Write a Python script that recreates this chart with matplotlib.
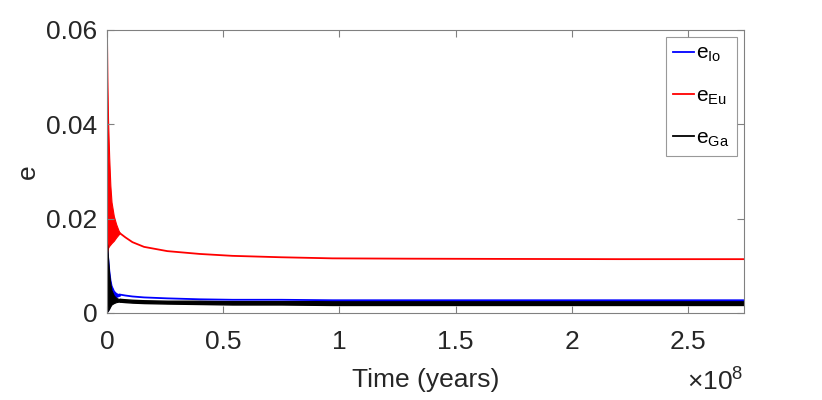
import matplotlib
matplotlib.use("Agg")
import matplotlib.pyplot as plt
import numpy as np

plt.rcParams['font.family'] = ['Liberation Sans', 'DejaVu Sans']
plt.rcParams['mathtext.fontset'] = 'custom'
plt.rcParams['mathtext.rm'] = 'Liberation Sans'
plt.rcParams['mathtext.it'] = 'Liberation Sans'

# time in units of 1e8 years
# early oscillating phase: upper / lower envelope of each series
t_early = [0.0, 0.002, 0.005, 0.01, 0.015, 0.02, 0.03, 0.04, 0.05, 0.056]
eu_hi = [0.0588, 0.050, 0.041, 0.033, 0.027, 0.0235, 0.0205, 0.0188, 0.0175, 0.0169]
eu_lo = [0.0125, 0.0130, 0.0138, 0.0142, 0.0145, 0.0148, 0.0153, 0.0160, 0.0166, 0.0169]
io_hi = [0.0140, 0.0132, 0.0118, 0.0090, 0.0070, 0.0058, 0.0047, 0.0042, 0.0040, 0.0039]
io_lo = [0.0003, 0.0004, 0.0006, 0.0012, 0.0018, 0.0024, 0.0030, 0.0034, 0.0036, 0.0037]
ga_hi = [0.0150, 0.0142, 0.0115, 0.0082, 0.0062, 0.0048, 0.0037, 0.0032, 0.0030, 0.0030]
ga_lo = [0.0003, 0.0003, 0.0005, 0.0009, 0.0014, 0.0018, 0.0021, 0.0023, 0.0024, 0.0024]

# slowly damped phase
t_late = [0.056, 0.08, 0.11, 0.16, 0.26, 0.4, 0.54, 0.75, 0.97, 1.3, 1.7, 2.2, 2.74]
eu_late = [0.0169, 0.0160, 0.0150, 0.0140, 0.0131, 0.0125, 0.0121, 0.0118, 0.01157, 0.0115, 0.01145, 0.0114, 0.0114]
io_late = [0.0039, 0.0037, 0.0035, 0.0033, 0.0031, 0.0029, 0.0028, 0.0028, 0.0027, 0.0027, 0.0027, 0.0027, 0.0027]
ga_late_hi = [0.0030, 0.0029, 0.0028, 0.0027, 0.0026, 0.0026, 0.0025, 0.0025, 0.0025, 0.0025, 0.0025, 0.0025, 0.0025]
ga_late_lo = [0.0024, 0.0023, 0.0022, 0.0021, 0.0020, 0.0019, 0.0018, 0.0018, 0.0017, 0.0017, 0.0017, 0.0017, 0.0017]

x_ticks = [0, 0.5, 1, 1.5, 2, 2.5]
x_tick_labels = ['0', '0.5', '1', '1.5', '2', '2.5']
y_ticks = [0, 0.02, 0.04, 0.06]
y_tick_labels = ['0', '0.02', '0.04', '0.06']

te = np.array(t_early) * 1e8
tl = np.array(t_late) * 1e8

fig = plt.figure(figsize=(8.22, 4.0), dpi=100)
ax = fig.add_axes([0.130, 0.2175, 0.775, 0.7085])

blue = '#0000ff'
red = '#ff0000'
black = '#000000'
dark = '#262626'
gray = '#808080'

# Io
ax.fill_between(te, io_lo, io_hi, color=blue, lw=0.8)
ax.plot(tl, io_late, color=blue, lw=1.3, label=r'$\mathregular{e_{Io}}$')
# Europa
ax.fill_between(te, eu_lo, eu_hi, color=red, lw=0.8)
ax.plot(tl, eu_late, color=red, lw=1.3, label=r'$\mathregular{e_{Eu}}$')
# Ganymede
ax.fill_between(te, ga_lo, ga_hi, color=black, lw=0.8)
ax.fill_between(tl, ga_late_lo, ga_late_hi, color=black, lw=1.0)
ax.plot([], [], color=black, lw=1.3, label=r'$\mathregular{e_{Ga}}$')

ax.set_xlim(0, 2.74e8)
ax.set_ylim(0, 0.06)
ax.set_yticks(y_ticks)
ax.set_yticklabels(y_tick_labels)
ax.set_xticks(np.array(x_ticks) * 1e8)
ax.set_xticklabels(x_tick_labels)

for s in ax.spines.values():
    s.set_color(gray)
    s.set_linewidth(0.8)
ax.tick_params(direction='in', length=5, width=0.8, color=gray,
               labelcolor=dark, labelsize=19, top=True, right=True)
ax.tick_params(axis='x', pad=12)
ax.tick_params(axis='y', pad=7)

ax.set_xlabel('Time (years)', fontsize=19, color=dark, labelpad=10)
ax.set_ylabel('e', fontsize=19, color=dark, labelpad=4)
ax.text(1.0, -0.195, r'$\times\mathregular{10^{8}}$', transform=ax.transAxes,
        ha='right', va='top', fontsize=19, color=dark)

leg = ax.legend(loc='upper right', fontsize=15, frameon=True, fancybox=False,
                edgecolor=gray, borderaxespad=0.35, handlelength=1.0,
                handletextpad=0.1, labelspacing=1.05, borderpad=0.35)
leg.get_frame().set_linewidth(0.8)

fig.savefig('out.png', dpi=100)
